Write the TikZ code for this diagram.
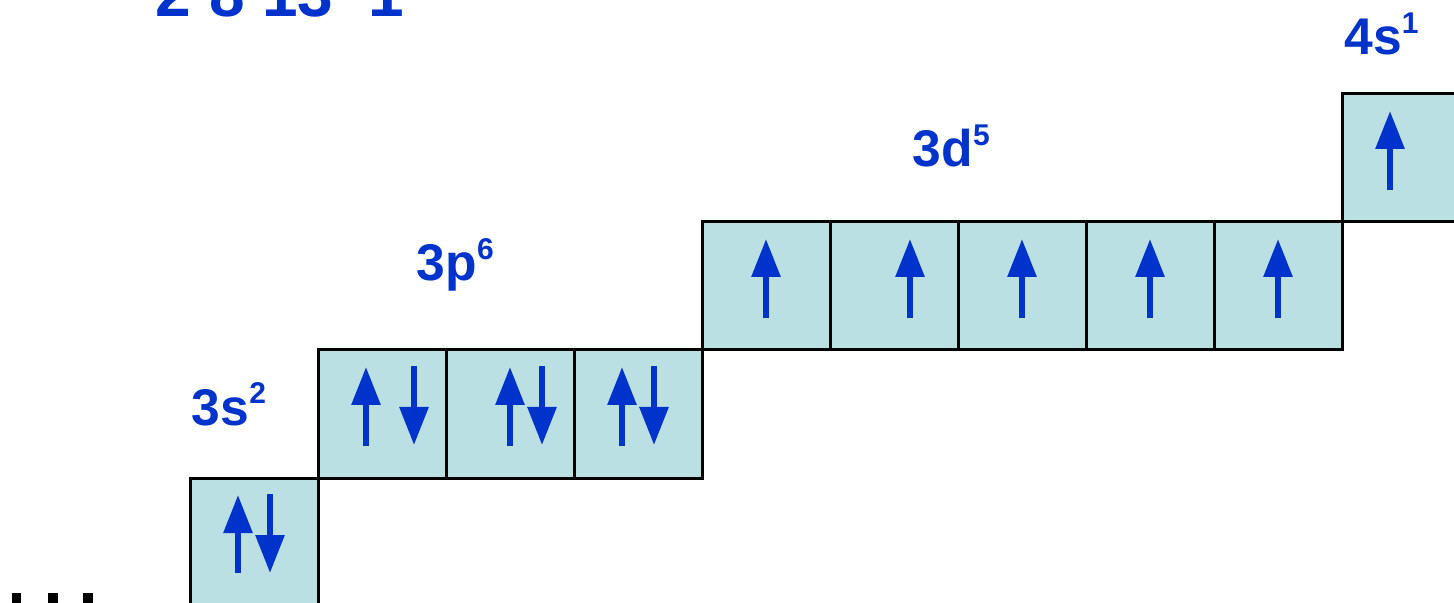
\documentclass[tikz,border=0pt]{standalone}
\usepackage{fontspec}
\setmainfont{Liberation Sans}
\usetikzlibrary{arrows.meta}
\definecolor{orb}{RGB}{187,224,227}
\definecolor{eblue}{RGB}{0,51,204}
\newcommand{\osup}[1]{\raisebox{10.5pt}{\fontsize{15pt}{16pt}\selectfont #1}}
\tikzset{
  orbital/.style={draw=black, line width=1.5pt, fill=orb, minimum size=64pt, inner sep=0pt, outer sep=0pt},
  spin/.style={draw=eblue, line width=3pt, -{Triangle[length=19pt,width=14pt]}},
  lbl/.style={text=eblue, font=\fontsize{25.8pt}{30pt}\selectfont\bfseries, anchor=base west, inner sep=0pt},
  toplbl/.style={text=eblue, font=\fontsize{32pt}{36pt}\selectfont\bfseries, anchor=base west, inner sep=0pt},
  blk/.style={fill=black, draw=none},
}
\begin{document}
\begin{tikzpicture}[x=0.5pt, y=-0.5pt]
\useasboundingbox (0,0) rectangle (1454,603);
\clip (0,0) rectangle (1454,603);
\fill[white] (0,0) rectangle (1454,603);

% clipped fragments at the edges
\node[toplbl] (top) at (155,17) {2\hspace{9.45pt}8\hspace{8.45pt}13\hspace{17.4pt}1};
\fill[blk] (12,593) rectangle (21,610);
\fill[blk] (48,593) rectangle (58,610);
\fill[blk] (83,593) rectangle (93,610);

% orbitals
\node[orbital] (s3) at (254,542) {};
\node[orbital] (p1) at (382,414) {};
\node[orbital] (p2) at (510,414) {};
\node[orbital] (p3) at (638,414) {};
\node[orbital] (d1) at (766,286) {};
\node[orbital] (d2) at (894,286) {};
\node[orbital] (d3) at (1022,286) {};
\node[orbital] (d4) at (1150,286) {};
\node[orbital] (d5) at (1278,286) {};
\node[orbital] (s4) at (1406,158) {};

% labels
\node[lbl] (l3s) at (191.5,425) {3s\osup{2}};
\node[lbl] (l3p) at (416.5,281) {3p\osup{6}};
\node[lbl] (l3d) at (912.5,167) {3d\osup{5}};
\node[lbl] (l4s) at (1344,55) {4s\osup{1}};

% electrons: 3s
\draw[spin] (238,573) -- (238,495);
\draw[spin] (270,494) -- (270,573);
% 3p
\draw[spin] (366,446) -- (366,367);
\draw[spin] (414,366) -- (414,445);
\draw[spin] (510,446) -- (510,367);
\draw[spin] (542,366) -- (542,445);
\draw[spin] (622,446) -- (622,367);
\draw[spin] (654,366) -- (654,445);
% 3d
\draw[spin] (766,318) -- (766,239);
\draw[spin] (910,318) -- (910,239);
\draw[spin] (1022,318) -- (1022,239);
\draw[spin] (1150,318) -- (1150,239);
\draw[spin] (1278,318) -- (1278,239);
% 4s
\draw[spin] (1390,190) -- (1390,111);
\end{tikzpicture}
\end{document}
